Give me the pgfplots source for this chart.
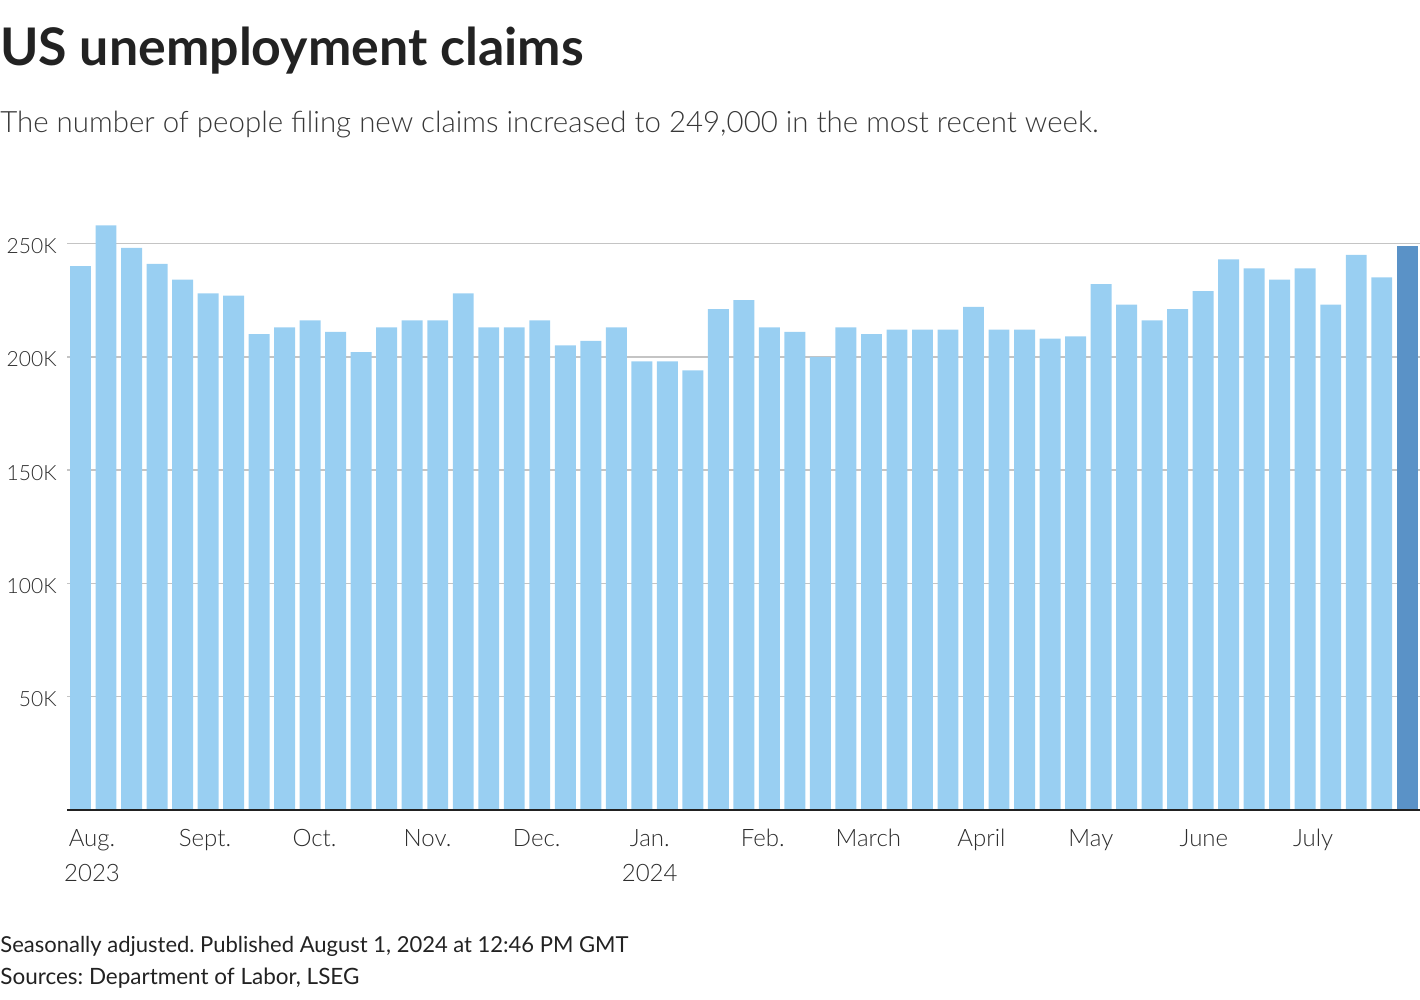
\documentclass[border=0pt]{standalone}
\usepackage{pgfplots}
\pgfplotsset{compat=1.18}
\usepackage{fontspec}
\setmainfont{Lato}
\newfontfamily\lightfont{Lato Light}
\definecolor{barlight}{RGB}{153,207,242}
\definecolor{bardark}{RGB}{90,146,199}
\definecolor{gridc}{RGB}{196,196,196}
\definecolor{txt}{RGB}{34,34,34}
\definecolor{tickc}{RGB}{45,45,45}
\frenchspacing
\begin{document}
\begin{tikzpicture}
\path[use as bounding box] (0,0) rectangle (710pt,500pt);
\node[anchor=base west, inner sep=0pt, text=txt] at (0pt,467pt) {\resizebox{291.5pt}{!}{\bfseries US unemployment claims}};
\node[anchor=base west, inner sep=0pt, text=txt!90] at (0pt,433.5pt) {\resizebox{549pt}{!}{\lightfont The number of people filing new claims increased to 249,000 in the most recent week.}};
\node[anchor=base west, inner sep=0pt, text=txt] at (0pt,23.5pt) {\resizebox{314pt}{!}{Seasonally adjusted. Published August 1, 2024 at 12:46 PM GMT}};
\node[anchor=base west, inner sep=0pt, text=txt] at (0pt,7.5pt) {\resizebox{179.5pt}{!}{Sources: Department of Labor, LSEG}};
\begin{axis}[
  at={(33.5pt,95pt)}, anchor=south west,
  scale only axis, width=676.5pt, height=294.6pt,
  xmin=-0.53, xmax=52.5, ymin=0, ymax=260,
  axis line style={draw=none},
  major tick length=0pt,
  ytick={50,100,150,200,250},
  yticklabels={50K,100K,150K,200K,250K},
  xtick={0.45,4.88,9.17,13.6,17.88,22.31,26.74,30.88,35.31,39.6,44.03,48.31},
  xticklabels={{Aug.\\2023},{Sept.},{Oct.},{Nov.},{Dec.},{Jan.\\2024},{Feb.},{March},{April},{May},{June},{July}},
  ymajorgrids, grid style={gridc, line width=0.75pt},
  yticklabel style={anchor=east, inner sep=0pt, xshift=-5pt, yshift=-1.3pt, text=tickc, font=\lightfont\fontsize{10.5}{13}\selectfont},
  xticklabel style={anchor=north, inner sep=0pt, yshift=-9.5pt, align=center, text=tickc, font=\lightfont\fontsize{12}{17.5}\selectfont},
  clip=false,
]
\addplot[ybar, bar width=0.82, fill=barlight, draw=none] coordinates {
(0,240) (1,258) (2,248) (3,241) (4,234) (5,228) (6,227) (7,210) (8,213) (9,216)
(10,211) (11,202) (12,213) (13,216) (14,216) (15,228) (16,213) (17,213) (18,216) (19,205)
(20,207) (21,213) (22,198) (23,198) (24,194) (25,221) (26,225) (27,213) (28,211) (29,200)
(30,213) (31,210) (32,212) (33,212) (34,212) (35,222) (36,212) (37,212) (38,208) (39,209)
(40,232) (41,223) (42,216) (43,221) (44,229) (45,243) (46,239) (47,234) (48,239) (49,223)
(50,245) (51,235)
};
\addplot[ybar, bar width=0.82, fill=bardark, draw=none] coordinates {(52,249)};
\draw[line width=0.85pt, black!87] (rel axis cs:0,0) -- (rel axis cs:1,0);
\end{axis}
\end{tikzpicture}
\end{document}
